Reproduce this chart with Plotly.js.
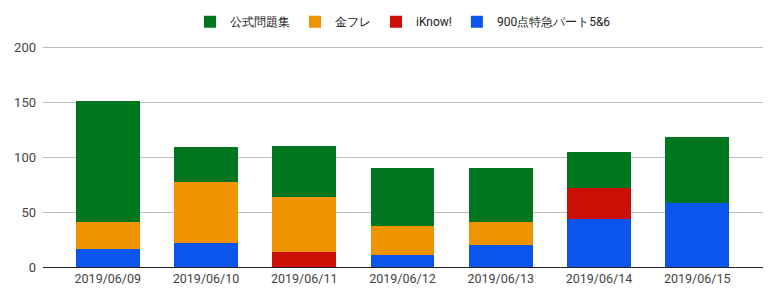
<!DOCTYPE html>
<html><head><meta charset="utf-8">
<script src="https://cdn.plot.ly/plotly-3.0.1.min.js"></script>
<style>html,body{margin:0;padding:0;background:#fff}#chart{width:778px;height:304px}</style>
</head><body><div id="chart"></div>
<script>
const dates = ["2019/06/09","2019/06/10","2019/06/11","2019/06/12","2019/06/13","2019/06/14","2019/06/15"];
const seriesNames = ["900点特急パート5&6","iKnow!","金フレ","公式問題集"];
const blue900 = [16,22,0,11,20,44,58];
const redIKnow = [0,0,14,0,0,28,0];
const orangeKinfure = [25,55,50,26,21,0,0];
const greenKoushiki = [110,32,46,53,49,33,60];
const yTicks = [0,50,100,150,200];

const colors = ["#0b55ed","#cc0f06","#f09300","#00771f"];
const values = [blue900, redIKnow, orangeKinfure, greenKoushiki];
const traces = values.map((v,i)=>({
  type:"bar", x:dates, y:v, name:seriesNames[i],
  marker:{color:colors[i], line:{width:0}},
  hoverinfo:"none"
}));

const layout = {
  width:778, height:304,
  margin:{l:43,r:15,t:44,b:37, autoexpand:false},
  barmode:"stack", bargap:0.35,
  font:{family:"Roboto, Arial, sans-serif", size:12, color:"#444"},
  paper_bgcolor:"#fff", plot_bgcolor:"#fff",
  showlegend:true,
  legend:{orientation:"h", x:0.5, xanchor:"center", y:1.1, yanchor:"middle",
          traceorder:"reversed", font:{size:12,color:"#222"}, itemclick:false},
  xaxis:{type:"category", range:[-0.66,6.67], showgrid:false, showline:true,
         linecolor:"#222", linewidth:1, ticks:"", tickfont:{size:12.5,color:"#444"}, zeroline:false},
  yaxis:{range:[0,203], tickvals:yTicks, ticktext:yTicks.map(String), showgrid:true,
         gridcolor:"#bdbdbd", zeroline:false, ticks:"", tickfont:{size:13,color:"#444"}, showline:false, ticklabelstandoff:6}
};
Plotly.newPlot("chart", traces, layout, {displayModeBar:false, staticPlot:true});
</script></body></html>
